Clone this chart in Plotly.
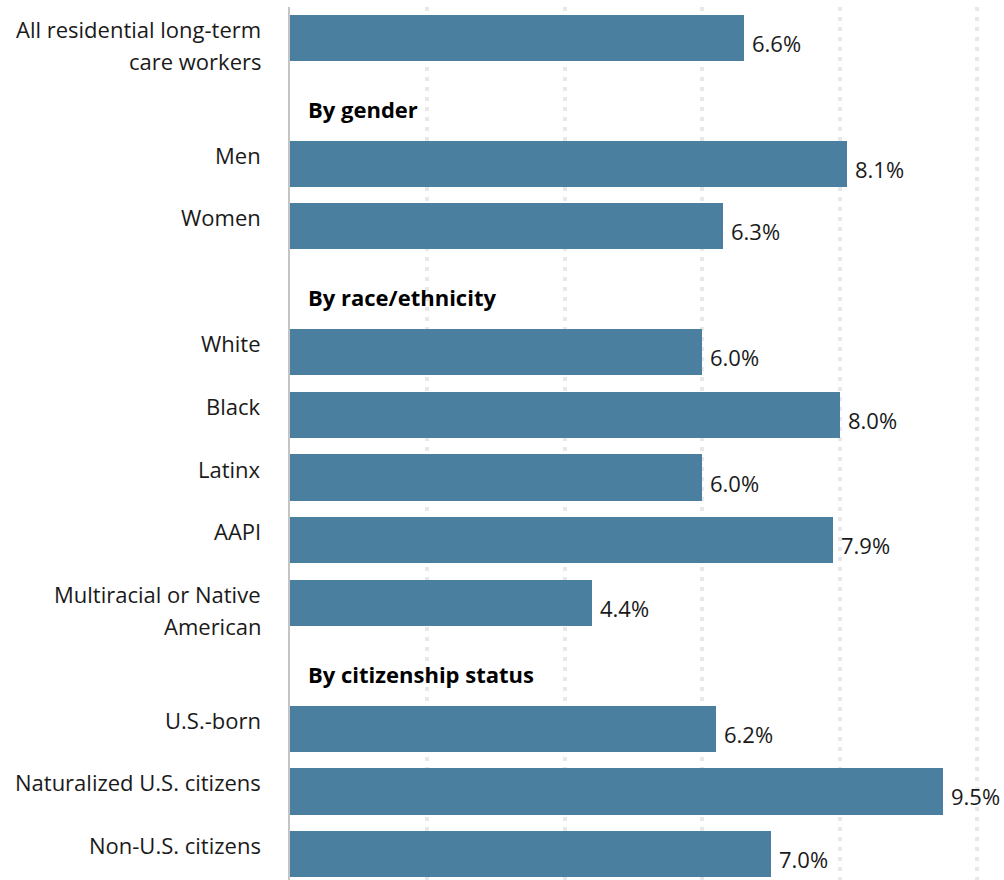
import plotly.graph_objects as go

# Share of residential long-term care workers, by group (%)
categories = [
    "All residential long-term care workers",
    "Men", "Women",
    "White", "Black", "Latinx", "AAPI", "Multiracial or Native American",
    "U.S.-born", "Naturalized U.S. citizens", "Non-U.S. citizens",
]
values = [6.6, 8.1, 6.3, 6.0, 8.0, 6.0, 7.9, 4.4, 6.2, 9.5, 7.0]
# Row slots: group headings take a slot of their own
row_slots = [0, 2, 3, 5, 6, 7, 8, 9, 11, 12, 13]
label_lines = [
    ["All residential long-term", "care workers"],
    ["Men"], ["Women"],
    ["White"], ["Black"], ["Latinx"], ["AAPI"], ["Multiracial or Native", "American"],
    ["U.S.-born"], ["Naturalized U.S. citizens"], ["Non-U.S. citizens"],
]
headings = ["By gender", "By race/ethnicity", "By citizenship status"]
heading_slots = [1, 4, 10]
value_labels = [f"{v:.1f}%" for v in values]

BAR = "#4A7FA0"
TEXT = "#1a1a1a"
FONT = "Open Sans"
SIZE = 22

fig = go.Figure(
    go.Bar(
        x=values,
        y=row_slots,
        orientation="h",
        marker=dict(color=BAR, line=dict(width=0)),
        width=0.735,
        hoverinfo="skip",
    )
)

ann = []
for slot, lines in zip(row_slots, label_lines):
    for i, line in enumerate(lines):
        ann.append(dict(
            x=0, y=slot, xref="x", yref="y", text=line, showarrow=False,
            xanchor="right", yanchor="middle", xshift=-27, yshift=9 - 32 * i,
            font=dict(family=FONT, size=SIZE, color=TEXT),
        ))
for slot, v, t in zip(row_slots, values, value_labels):
    ann.append(dict(
        x=v, y=slot, xref="x", yref="y", text=t, showarrow=False,
        xanchor="left", yanchor="middle", xshift=6, yshift=-5,
        font=dict(family=FONT, size=SIZE, color=TEXT),
    ))
for slot, h in zip(heading_slots, headings):
    ann.append(dict(
        x=0, y=slot, xref="x", yref="y", text=f"<b>{h}</b>", showarrow=False,
        xanchor="left", yanchor="middle", xshift=16, yshift=-8,
        font=dict(family=FONT, size=SIZE, color="#000000"),
    ))

fig.update_layout(
    width=1004, height=880,
    margin=dict(l=290, r=0, t=7, b=0),
    paper_bgcolor="white", plot_bgcolor="white",
    showlegend=False,
    annotations=ann,
    xaxis=dict(
        range=[0, 10.39], tickvals=[2, 4, 6, 8, 10], showticklabels=False,
        showgrid=True, gridcolor="#e8e8e8", gridwidth=4, griddash="4px,6px",
        zeroline=False, showline=False, ticks="",
    ),
    yaxis=dict(
        range=[13.41, -0.494], showticklabels=False, showgrid=False,
        zeroline=False, showline=True, linecolor="#c4c4c4", linewidth=2, ticks="",
    ),
    bargap=0,
)

fig.write_html("out.html")
